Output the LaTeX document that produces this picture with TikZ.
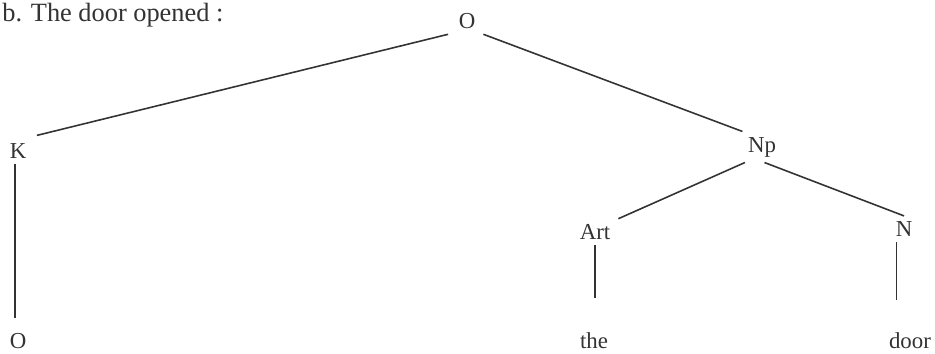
\documentclass[tikz,border=0pt]{standalone}
\usepackage{fontspec}
\setmainfont{Liberation Serif}
\usetikzlibrary{positioning}
\definecolor{ink}{HTML}{333333}

\begin{document}
\begin{tikzpicture}[
    cat/.style={text=ink, inner sep=3pt, font=\fontsize{13}{15}\selectfont},
    leaf/.style={cat, anchor=base},
    branch/.style={draw=ink, line width=0.9pt}
]
\useasboundingbox (0,0) rectangle (18.7,-7.08);
% heading
\node[cat, anchor=base west, inner sep=0pt, font=\fontsize{15}{17}\selectfont] (title) at (0.04,-0.44) {b. The door opened :};
% tree
\node[cat] (root) at (9.34,-0.42) {O};
\node[cat] (k) at (0.36,-3.02) {K};
\node[cat] (np) at (15.24,-2.94) {Np};
\node[cat] (art) at (11.90,-4.64) {Art};
\node[cat] (n) at (18.08,-4.58) {N};
\node[leaf] (kword) at (0.36,-6.98) {O};
\node[leaf] (the) at (11.88,-6.98) {the};
\node[leaf] (door) at (18.20,-6.98) {door};
\draw[branch] ([xshift=-0.1cm]root.south west) -- ([xshift=0.1cm,yshift=0.05cm]k.north east);
\draw[branch] ([xshift=0.05cm]root.south east) -- (np.north west);
\draw[branch] ([xshift=0.05cm]np.south west) -- ([xshift=0.05cm]art.north east);
\draw[branch] ([xshift=0.05cm]np.south) -- (n.north);
\draw[branch, shorten >=0.2cm] ([xshift=-0.06cm]k.south) -- ([xshift=-0.06cm]kword.north);
\draw[branch, shorten >=0.6cm] (art.south) -- (art.south |- the.north);
\draw[branch, shorten >=0.55cm] ([xshift=-0.15cm]n.south) -- ([xshift=-0.15cm]n.south |- door.north);
\end{tikzpicture}
\end{document}
